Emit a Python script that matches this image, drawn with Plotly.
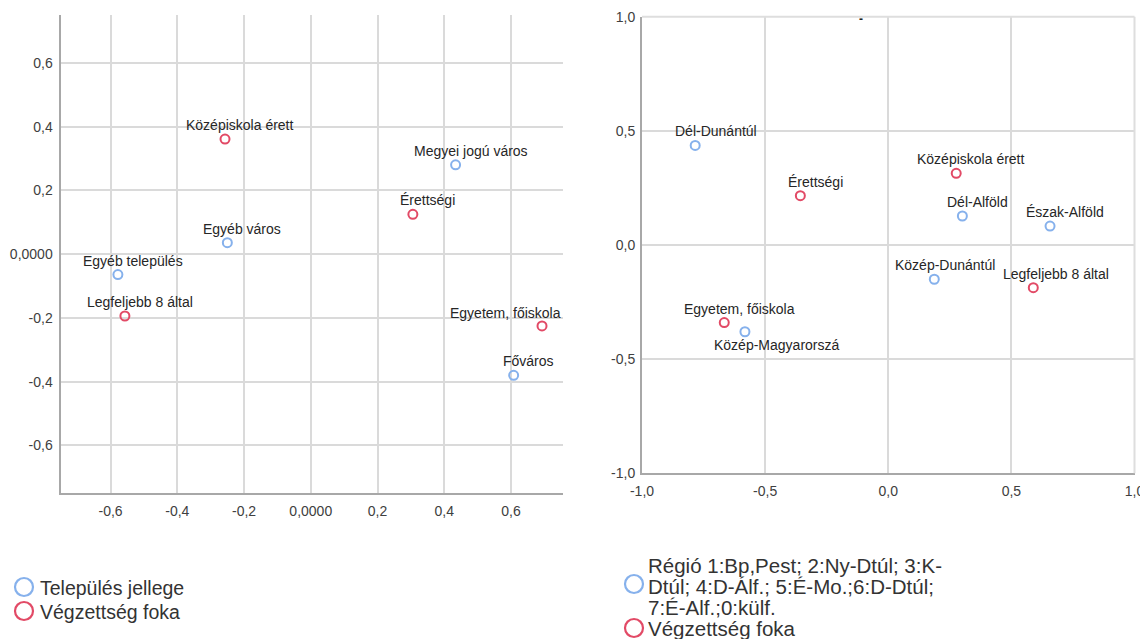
import plotly.graph_objects as go

# ---------------- data ----------------
# Left map: Település jellege (rows) / Végzettség foka (columns)
left_row_labels = ["Megyei jogú város", "Egyéb város", "Egyéb település", "Főváros"]
left_row_x = [0.434, -0.250, -0.578, 0.608]
left_row_y = [0.280, 0.036, -0.064, -0.380]

left_col_labels = ["Középiskola érett", "Érettségi", "Legfeljebb 8 által", "Egyetem, főiskola"]
left_col_x = [-0.257, 0.306, -0.557, 0.693]
left_col_y = [0.361, 0.125, -0.194, -0.225]

# Right map: Régió (rows) / Végzettség foka (columns)
right_row_labels = ["Dél-Dunántúl", "Dél-Alföld", "Észak-Alföld", "Közép-Dunántúl", "Közép-Magyarorszá"]
right_row_x = [-0.784, 0.301, 0.657, 0.187, -0.582]
right_row_y = [0.436, 0.127, 0.083, -0.150, -0.380]

right_col_labels = ["Érettségi", "Középiskola érett", "Legfeljebb 8 által", "Egyetem, főiskola"]
right_col_x = [-0.357, 0.276, 0.589, -0.666]
right_col_y = [0.216, 0.314, -0.187, -0.340]

left_ticks = [-0.6, -0.4, -0.2, 0.0, 0.2, 0.4, 0.6]
left_ticktext = ["-0,6", "-0,4", "-0,2", "0,0000", "0,2", "0,4", "0,6"]
right_ticks = [-1.0, -0.5, 0.0, 0.5, 1.0]
right_ticktext = ["-1,0", "-0,5", "0,0", "0,5", "1,0"]

legend_left = ["Település jellege", "Végzettség foka"]
legend_right = ["Régió 1:Bp,Pest; 2:Ny-Dtúl; 3:K-", "Dtúl; 4:D-Álf.; 5:É-Mo.;6:D-Dtúl;",
                "7:É-Alf.;0:külf.", "Végzettség foka"]

# ---------------- style ----------------
PAGE_OFF = 8          # default body margin of the html page
W, H = 1148 - PAGE_OFF, 639 - PAGE_OFF
BLUE = "#86B1EC"
RED = "#E24A66"
GRID = "#DADADA"
AXIS = "#A8A8A8"
TXT = "#262626"
FONT = "Liberation Sans, Arial, sans-serif"
LBL = 14

# label offsets (px) relative to their point
off_left = {"Egyetem, főiskola": (-37, -13)}
off_right = {"Dél-Dunántúl": (21, -14), "Közép-Dunántúl": (11, -14),
             "Legfeljebb 8 által": (23, -14), "Közép-Magyarorszá": (32, 13)}
DEF_OFF = (15, -14)

def px(x):
    return (x - PAGE_OFF) / W

def py(y):
    return 1 - (y - PAGE_OFF) / H

fig = go.Figure()

def add_points(xs, ys, labels, color, xa, ya, offs):
    fig.add_trace(go.Scatter(
        x=xs, y=ys, mode="markers", xaxis=xa, yaxis=ya,
        marker=dict(symbol="circle-open", size=9, color=color, line=dict(width=2, color=color)),
        showlegend=False, hoverinfo="text", text=labels))
    for x, y, t in zip(xs, ys, labels):
        dx, dy = offs.get(t, DEF_OFF)
        fig.add_annotation(x=x, y=y, xref=xa, yref=ya, text=t, showarrow=False,
                           xshift=dx, yshift=-dy, xanchor="center", yanchor="middle",
                           font=dict(family=FONT, size=LBL, color=TXT))

add_points(left_row_x, left_row_y, left_row_labels, BLUE, "x", "y", off_left)
add_points(left_col_x, left_col_y, left_col_labels, RED, "x", "y", off_left)
add_points(right_row_x, right_row_y, right_row_labels, BLUE, "x2", "y2", off_right)
add_points(right_col_x, right_col_y, right_col_labels, RED, "x2", "y2", off_right)

axcommon = dict(showgrid=True, gridcolor=GRID, gridwidth=1.5, zeroline=False,
                showline=True, linecolor=AXIS, linewidth=2, ticks="", automargin=False,
                tickfont=dict(family=FONT, size=LBL, color="#404040"))

fig.update_layout(
    width=W, height=H, margin=dict(l=0, r=0, t=0, b=0, autoexpand=False),
    paper_bgcolor="white", plot_bgcolor="white", showlegend=False,
    xaxis=dict(domain=[px(60.5), px(562.7)], range=[-0.75, 0.755], anchor="y",
               tickvals=left_ticks, ticktext=left_ticktext, ticklabelstandoff=4, **axcommon),
    yaxis=dict(domain=[py(493.3), py(15)], range=[-0.75, 0.75], anchor="x",
               tickvals=left_ticks, ticktext=left_ticktext, ticklabelstandoff=3, **axcommon),
    xaxis2=dict(domain=[px(642), px(1134.5)], range=[-1, 1], anchor="y2",
                tickvals=right_ticks, ticktext=right_ticktext, ticklabelstandoff=4, **axcommon),
    yaxis2=dict(domain=[py(473.3), py(16.7)], range=[-1, 1], anchor="x2",
                tickvals=right_ticks, ticktext=right_ticktext, ticklabelstandoff=2, **axcommon),
)

# frame top/right of the right map
fig.add_shape(type="line", xref="x2 domain", yref="y2 domain", x0=0, x1=1, y0=1, y1=1,
              line=dict(color="#DEDEDE", width=2))
fig.add_shape(type="line", xref="x2 domain", yref="y2 domain", x0=1, x1=1, y0=0, y1=1,
              line=dict(color="#DEDEDE", width=2))

# truncated title remnant
fig.add_annotation(x=px(865), y=py(10), xref="paper", yref="paper", text="<b>-</b>",
                   showarrow=False, font=dict(family=FONT, size=12, color="#222222"))

# ---------------- legends ----------------
def legend_circle(cx, cy, color):
    r = 9
    fig.add_shape(type="circle", xref="paper", yref="paper",
                  x0=px(cx - r), x1=px(cx + r), y0=py(cy + r), y1=py(cy - r),
                  line=dict(color=color, width=2.2))

def legend_text(x, y, t, size):
    fig.add_annotation(x=px(x), y=py(y), xref="paper", yref="paper", text=t, showarrow=False,
                       xanchor="left", yanchor="middle",
                       font=dict(family=FONT, size=size, color="#333333"))

legend_circle(24, 587, BLUE)
legend_circle(24, 611, RED)
legend_text(38, 588, legend_left[0], 19.5)
legend_text(38, 612, legend_left[1], 19.5)

legend_circle(634, 584, BLUE)
legend_circle(634, 628, RED)
for i, yy in enumerate([565, 586, 607]):
    legend_text(646, yy, legend_right[i], 20.5)
legend_text(646, 628, legend_right[3], 20.5)

fig.write_html("out.html")
